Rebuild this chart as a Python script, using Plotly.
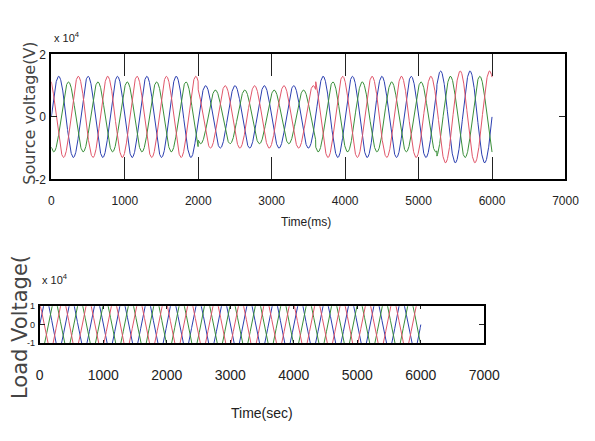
import numpy as np
import plotly.graph_objects as go

# ---- data (values in volts, time in ms) ----
period_ms = 400.0                       # period of each phase
seg_start = [0, 2000, 3600, 5250]        # source-voltage segments (normal, sag, normal, swell)
seg_end = [2000, 3600, 5250, 6000]
src_amp_blue = [1.30e4, 1.00e4, 1.30e4, 1.47e4]
src_amp_green = [1.12e4, 0.86e4, 1.12e4, 1.30e4]
src_amp_red = [1.30e4, 1.00e4, 1.30e4, 1.47e4]
load_amp = [1.30e4, 1.30e4, 1.30e4, 1.30e4]   # load voltage stays regulated

phase_blue, phase_green, phase_red = 0.0, -120.0, 120.0   # degrees

x_ticks = [0, 1000, 2000, 3000, 4000, 5000, 6000, 7000]
top_y_ticks = [-2e4, 0, 2e4]
top_y_text = ["-2", "0", "2"]
bot_y_ticks = [-1e4, 0, 1e4]
bot_y_text = ["-1", "0", "1"]

colors = {"blue": "#2b3fb0", "green": "#3a8f3a", "red": "#e0566a"}

# ---- build waveforms ----
t = np.arange(0, 6000.5, 2.0)


def wave(amps, phase_deg):
    amp = np.zeros_like(t)
    for s, e, a in zip(seg_start, seg_end, amps):
        amp[(t >= s) & (t <= e)] = a
    return amp * np.sin(2 * np.pi * t / period_ms + np.deg2rad(phase_deg))


fig = go.Figure()
for name, amps, ph in [("blue", src_amp_blue, phase_blue),
                       ("green", src_amp_green, phase_green),
                       ("red", src_amp_red, phase_red)]:
    fig.add_trace(go.Scatter(x=t, y=wave(amps, ph), mode="lines",
                             line=dict(color=colors[name], width=1.0),
                             xaxis="x", yaxis="y", showlegend=False))
for name, ph in [("blue", phase_blue), ("green", phase_green), ("red", phase_red)]:
    fig.add_trace(go.Scatter(x=t, y=wave(load_amp, ph), mode="lines",
                             line=dict(color=colors[name], width=1.0),
                             xaxis="x2", yaxis="y2", showlegend=False))

W, H = 595, 441
FAM = "Liberation Sans, Arial, sans-serif"
tick_font_top = dict(family=FAM, size=12, color="#222")
tick_font_bot = dict(family=FAM, size=14, color="#222")

axis_common = dict(showgrid=False, zeroline=False, showline=True, linecolor="black",
                   linewidth=2, mirror="ticks", ticks="inside", tickcolor="#222")

fig.update_layout(
    width=W, height=H, margin=dict(l=0, r=0, t=0, b=0),
    paper_bgcolor="white", plot_bgcolor="white",
    xaxis=dict(domain=[49 / W, 581 / W], range=[0, 7000], tickvals=x_ticks,
               ticklen=22, tickwidth=1, tickfont=tick_font_top, anchor="y",
               ticklabelstandoff=9, **axis_common),
    yaxis=dict(domain=[1 - 178 / H, 1 - 49 / H], range=[-2e4, 2e4], tickvals=top_y_ticks,
               ticktext=top_y_text, ticklen=6, tickwidth=1, tickfont=tick_font_top,
               ticklabelstandoff=1, anchor="x", **axis_common),
    xaxis2=dict(domain=[37 / W, 497 / W], range=[0, 7000], tickvals=x_ticks,
                ticklen=3, tickwidth=1, tickfont=tick_font_bot, anchor="y2",
                ticklabelstandoff=18, **axis_common),
    yaxis2=dict(domain=[1 - 347 / H, 1 - 309 / H], range=[-1e4, 1e4], tickvals=bot_y_ticks,
                ticktext=bot_y_text, ticklen=5, tickwidth=1, ticklabelstandoff=1,
                tickfont=dict(family=FAM, size=9, color="#222"),
                anchor="x2", **axis_common),
)

ann_font = dict(family=FAM, color="#222")
fig.add_annotation(x=50 / W, y=1 - 31 / H, xref="paper", yref="paper", showarrow=False,
                   text="x 10<sup>4</sup>", xanchor="left", yanchor="middle",
                   font=dict(size=11, **ann_font))
fig.add_annotation(x=37 / W, y=1 - 281 / H, xref="paper", yref="paper", showarrow=False,
                   text="x 10<sup>4</sup>", xanchor="left", yanchor="middle",
                   font=dict(size=11, **ann_font))
fig.add_annotation(x=312 / W, y=1 - 222 / H, xref="paper", yref="paper", showarrow=False,
                   text="Time(ms)", xanchor="center", yanchor="middle",
                   font=dict(size=12, **ann_font))
fig.add_annotation(x=267 / W, y=1 - 419 / H, xref="paper", yref="paper", showarrow=False,
                   text="Time(sec)", xanchor="center", yanchor="middle",
                   font=dict(size=14, **ann_font))
fig.add_annotation(x=26 / W, y=1 - 110 / H, xref="paper", yref="paper", showarrow=False,
                   text="Source voltage(V)", textangle=-90, xanchor="center", yanchor="middle",
                   font=dict(family="DejaVu Sans", size=16, color="#444"))
fig.add_annotation(x=16 / W, y=1 - 330 / H, xref="paper", yref="paper", showarrow=False,
                   text="Load Voltage(", textangle=-90, xanchor="center", yanchor="middle",
                   font=dict(family="DejaVu Sans", size=21, color="#444"))

fig.write_html("out.html")
